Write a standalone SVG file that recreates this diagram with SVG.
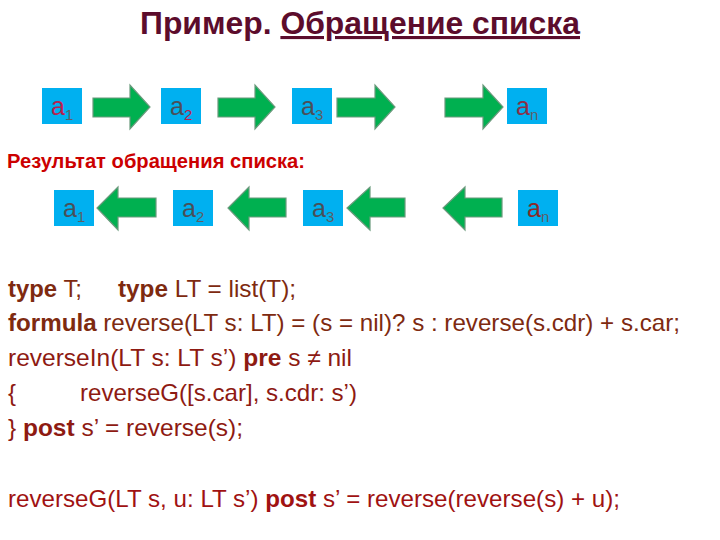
<svg xmlns="http://www.w3.org/2000/svg" width="720" height="540" viewBox="0 0 720 540">
<style>
.bg{fill:#ffffff}
.box{fill:#00b0f0}
.arr{fill:#00b050;stroke:#6a9a7c;stroke-width:1.2;stroke-linejoin:miter}
.lbl{font-family:"Liberation Sans",Arial,sans-serif;font-size:25px;fill:#4a4f58}
.sub{font-family:"Liberation Sans",Arial,sans-serif;font-size:15px;fill:#5a5f66}
.acc{fill:#b8204e}
.title{font-family:"Liberation Sans",Arial,sans-serif;font-size:31px;font-weight:bold;fill:#5c0c2c}
.res{font-family:"Liberation Sans",Arial,sans-serif;font-size:20px;font-weight:bold;fill:#cc0000}
.code{font-family:"Liberation Sans",Arial,sans-serif;font-size:24px;fill:#7e2a10}
.code2{font-family:"Liberation Sans",Arial,sans-serif;font-size:24px;fill:#8e1a12}
.code3{font-family:"Liberation Sans",Arial,sans-serif;font-size:24px;fill:#a01212}
.kw{font-weight:bold}
</style>
<rect class="bg" x="0" y="0" width="720" height="540"/>

<g id="title">
  <text class="title" x="140" y="34" textLength="440" lengthAdjust="spacingAndGlyphs">Пример. <tspan text-decoration="underline">Обращение списка</tspan></text>
</g>

<g id="row1">
  <g id="r1-a1"><rect class="box" x="42" y="88" width="40" height="36"/><text class="lbl acc" x="51" y="115">a</text><text class="sub" x="65" y="120">1</text></g>
  <g id="r1-a2"><rect class="box" x="161" y="88" width="40" height="36"/><text class="lbl" x="170" y="115">a</text><text class="sub acc" x="184" y="120">2</text></g>
  <g id="r1-a3"><rect class="box" x="292" y="88" width="40" height="36"/><text class="lbl" x="301" y="115">a</text><text class="sub" x="315" y="120">3</text></g>
  <g id="r1-an"><rect class="box" x="507" y="88" width="40" height="36"/><text class="lbl" x="516" y="115" style="fill:#8a3048">a</text><text class="sub" x="530" y="120">n</text></g>
</g>

<g id="result-label">
  <text class="res" x="7" y="168" textLength="298" lengthAdjust="spacingAndGlyphs">Результат обращения списка:</text>
</g>

<g id="row2">
  <g id="r2-a1"><rect class="box" x="54" y="190" width="40" height="36"/><text class="lbl" x="63" y="217">a</text><text class="sub" x="77" y="222">1</text></g>
  <g id="r2-a2"><rect class="box" x="173" y="190" width="40" height="36"/><text class="lbl" x="182" y="217">a</text><text class="sub" x="196" y="222">2</text></g>
  <g id="r2-a3"><rect class="box" x="303" y="190" width="40" height="36"/><text class="lbl" x="312" y="217">a</text><text class="sub" x="326" y="222">3</text></g>
  <g id="r2-an"><rect class="box" x="518" y="190" width="40" height="36"/><text class="lbl" x="527" y="217" style="fill:#8a2a2a">a</text><text class="sub" x="541" y="222">n</text></g>
</g>

<g id="connectors">
  <polygon class="arr" points="93,98 130,98 130,85 150,107 130,129 130,117 93,117"/>
  <polygon class="arr" points="218,98 255,98 255,85 275,107 255,129 255,117 218,117"/>
  <polygon class="arr" points="337,98 375,98 375,85 395,107 375,129 375,117 337,117"/>
  <polygon class="arr" points="445,98 483,98 483,85 503,107 483,129 483,117 445,117"/>
  <polygon class="arr" points="156,198 118,198 118,187 97,208 118,230 118,217 156,217"/>
  <polygon class="arr" points="286,198 249,198 249,187 228,208 249,230 249,217 286,217"/>
  <polygon class="arr" points="405,198 370,198 370,187 347,208 370,230 370,217 405,217"/>
  <polygon class="arr" points="502,198 465,198 465,187 443,208 465,230 465,217 502,217"/>
</g>

<g id="code">
  <text class="code" x="8" y="297" textLength="74" lengthAdjust="spacingAndGlyphs"><tspan class="kw">type</tspan> T;</text>
  <text class="code" x="118" y="297" textLength="178" lengthAdjust="spacingAndGlyphs"><tspan class="kw">type</tspan> LT = list(T);</text>
  <text class="code" x="8" y="331" textLength="672" lengthAdjust="spacingAndGlyphs"><tspan class="kw">formula</tspan> reverse(LT s: LT) = (s = nil)? s : reverse(s.cdr) + s.car;</text>
  <text class="code2" x="8" y="366" textLength="344" lengthAdjust="spacingAndGlyphs">reverseIn(LT s: LT s’) <tspan class="kw">pre</tspan> s ≠ nil</text>
  <text class="code2" x="8" y="401">{</text>
  <text class="code2" x="80" y="401" textLength="277" lengthAdjust="spacingAndGlyphs">reverseG([s.car], s.cdr: s’)</text>
  <text class="code2" x="8" y="436" textLength="235" lengthAdjust="spacingAndGlyphs">} <tspan class="kw">post</tspan> s’ = reverse(s);</text>
  <text class="code3" x="8" y="507" textLength="612" lengthAdjust="spacingAndGlyphs">reverseG(LT s, u: LT s’) <tspan class="kw">post</tspan> s’ = reverse(reverse(s) + u);</text>
</g>
</svg>
